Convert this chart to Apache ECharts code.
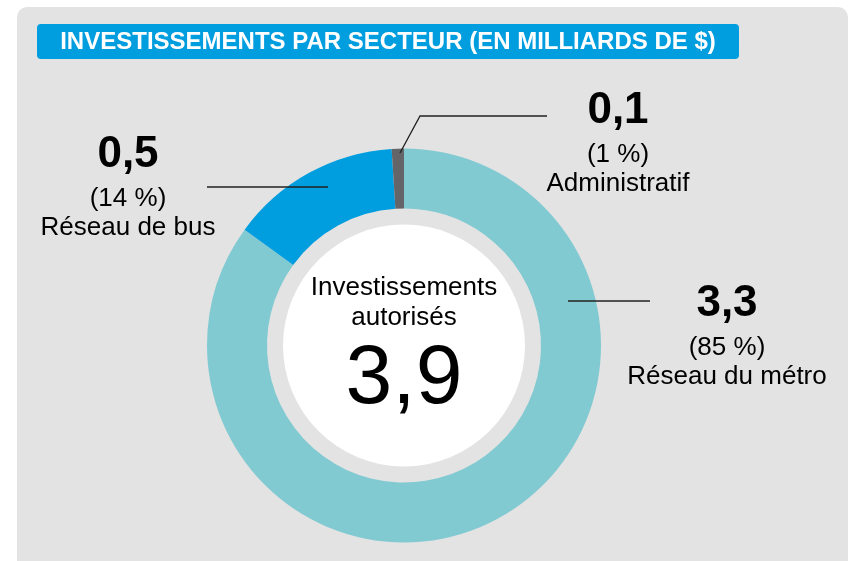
<!DOCTYPE html>
<html>
<head>
<meta charset="utf-8">
<script src="https://cdn.jsdelivr.net/npm/echarts@6/dist/echarts.min.js"></script>
<style>
  html, body { margin: 0; padding: 0; background: #fff; }
  #chart { width: 851px; height: 561px; }
</style>
</head>
<body>
<div id="chart"></div>
<script>
// data (milliards de $)
const sectors = ['Réseau du métro', 'Réseau de bus', 'Administratif'];
const amounts = [3.3, 0.5, 0.1];
const shares = [85, 14, 1];
const centerLines = ['Investissements', 'autorisés'];
const titleText = 'INVESTISSEMENTS PAR SECTEUR (EN MILLIARDS DE $)';

const FONT = '"Liberation Sans", Arial, sans-serif';
const sliceColors = ['#82cad2', '#009ddf', '#636569'];
const CX = 404, CY = 345.5;

// where each label block sits + its leader line
const anchors = [
  { x: 727, y: 275, line: [[568, 301], [650, 301]] },
  { x: 128, y: 126, line: [[328, 187], [207, 187]] },
  { x: 618, y: 82, line: [[400, 153], [420, 116], [547, 116]] }
];

const fmt = v => v.toFixed(1).replace('.', ',');
const total = amounts.reduce((a, b) => a + b, 0);

const chart = echarts.init(document.getElementById('chart'), null, { renderer: 'canvas' });

const leaderLines = anchors.map(a => ({
  type: 'polyline', z: 20, silent: true,
  shape: { points: a.line },
  style: { stroke: '#222', lineWidth: 1.3, fill: null }
}));

chart.setOption({
  animation: false,
  textStyle: { fontFamily: FONT },
  graphic: [
    { type: 'rect', z: -10, silent: true,
      shape: { x: 17, y: 7, width: 831, height: 600, r: 10 },
      style: { fill: '#e3e3e3' } },
    { type: 'rect', z: 10,
      shape: { x: 37, y: 24, width: 702, height: 35, r: 4 },
      style: { fill: '#009ddf' } },
    { type: 'text', z: 11,
      style: { text: titleText, x: 388, y: 42, align: 'center', verticalAlign: 'middle',
        fill: '#fff', fontSize: 24, fontWeight: 'bold', fontFamily: FONT } },
    { type: 'circle', z: 1,
      shape: { cx: CX, cy: CY, r: 121 },
      style: { fill: '#fff' } },
    { type: 'text', z: 11,
      style: { text: centerLines[0], x: CX, y: 288, align: 'center', verticalAlign: 'middle',
        fill: '#000', fontSize: 26, fontFamily: FONT } },
    { type: 'text', z: 11,
      style: { text: centerLines[1], x: CX, y: 318, align: 'center', verticalAlign: 'middle',
        fill: '#000', fontSize: 26, fontFamily: FONT } },
    { type: 'text', z: 11,
      style: { text: fmt(total), x: CX, y: 380, align: 'center', verticalAlign: 'middle',
        fill: '#000', fontSize: 84, fontFamily: FONT } }
  ].concat(leaderLines),
  series: [{
    type: 'pie',
    center: [CX, CY],
    radius: [137, 197],
    startAngle: 90,
    clockwise: true,
    avoidLabelOverlap: false,
    emphasis: { disabled: true },
    data: sectors.map((name, i) => ({
      name,
      value: shares[i],
      itemStyle: { color: sliceColors[i] }
    })),
    label: {
      show: true,
      position: 'outside',
      formatter: p => '{v|' + fmt(amounts[p.dataIndex]) + '}\n{p|(' + shares[p.dataIndex] + ' %)}\n{n|' + p.name + '}',
      rich: {
        v: { fontSize: 44, fontWeight: 'bold', lineHeight: 58, color: '#000', fontFamily: FONT },
        p: { fontSize: 26, lineHeight: 29, color: '#000', fontFamily: FONT },
        n: { fontSize: 26, lineHeight: 29, color: '#000', fontFamily: FONT }
      }
    },
    labelLine: { show: false },
    labelLayout: params => {
      const a = anchors[params.dataIndex];
      return { x: a.x, y: a.y, align: 'center', verticalAlign: 'top' };
    }
  }]
});
</script>
</body>
</html>
